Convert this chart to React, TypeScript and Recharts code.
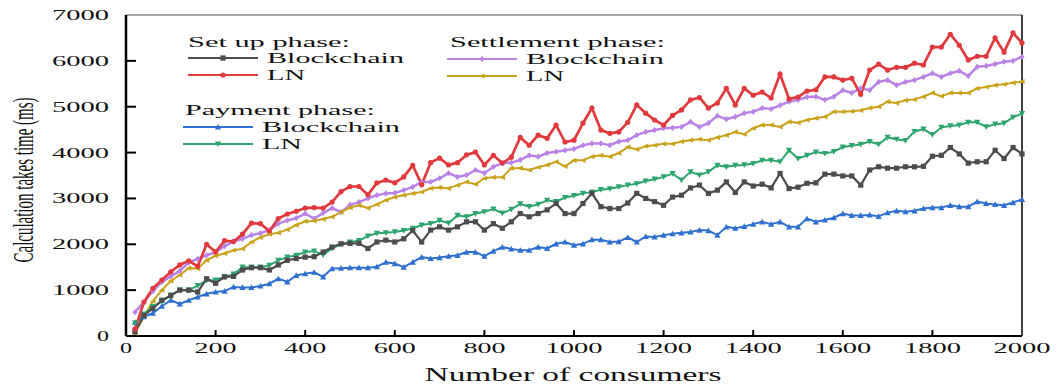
import { LineChart, Line, XAxis, YAxis, ReferenceLine } from "recharts";

// x positions: number of consumers
const consumers = [
  20, 40, 60, 80, 100, 120, 140, 160, 180, 200, 220, 240, 260, 280, 300, 320, 340, 360, 380, 400,
  420, 440, 460, 480, 500, 520, 540, 560, 580, 600, 620, 640, 660, 680, 700, 720, 740, 760, 780, 800,
  820, 840, 860, 880, 900, 920, 940, 960, 980, 1000, 1020, 1040, 1060, 1080, 1100, 1120, 1140, 1160, 1180, 1200,
  1220, 1240, 1260, 1280, 1300, 1320, 1340, 1360, 1380, 1400, 1420, 1440, 1460, 1480, 1500, 1520, 1540, 1560, 1580, 1600,
  1620, 1640, 1660, 1680, 1700, 1720, 1740, 1760, 1780, 1800, 1820, 1840, 1860, 1880, 1900, 1920, 1940, 1960, 1980, 2000,
];

const setupBlockchain = [
  90, 450, 600, 780, 880, 1000, 1000, 960, 1250, 1150, 1290, 1300, 1440, 1490, 1490, 1440, 1550, 1650, 1690, 1720,
  1730, 1830, 1940, 2010, 2020, 2020, 1910, 2050, 2090, 2050, 2120, 2300, 2050, 2310, 2380, 2310, 2380, 2490, 2490, 2310,
  2450, 2350, 2490, 2670, 2600, 2670, 2750, 2890, 2670, 2670, 2890, 3110, 2820, 2780, 2780, 2900, 3110, 3000, 2930, 2850,
  3030, 3070, 3230, 3290, 3110, 3180, 3360, 3130, 3360, 3270, 3310, 3230, 3545, 3215, 3245, 3330, 3340, 3530, 3530, 3490,
  3490, 3290, 3620, 3690, 3660, 3660, 3690, 3690, 3700, 3920, 3940, 4110, 3970, 3770, 3800, 3800, 4050, 3870, 4110, 3970,
];

const setupLN = [
  150, 740, 1040, 1220, 1400, 1550, 1640, 1520, 2000, 1830, 2080, 2060, 2220, 2460, 2450, 2290, 2560, 2660, 2720, 2790,
  2800, 2790, 2920, 3150, 3260, 3260, 3080, 3340, 3400, 3340, 3470, 3720, 3300, 3780, 3880, 3730, 3780, 3950, 4010, 3730,
  3940, 3770, 3900, 4330, 4160, 4380, 4310, 4600, 4230, 4270, 4640, 4970, 4490, 4420, 4450, 4660, 5040, 4860, 4710, 4600,
  4810, 4930, 5150, 5200, 4970, 5080, 5400, 5040, 5400, 5250, 5320, 5190, 5710, 5170, 5210, 5340, 5370, 5650, 5650, 5580,
  5620, 5270, 5800, 5930, 5800, 5860, 5860, 5950, 5910, 6300, 6300, 6580, 6340, 6020, 6100, 6100, 6500, 6190, 6610, 6390,
];

const paymentBlockchain = [
  300, 420, 500, 650, 780, 700, 780, 850, 920, 960, 980, 1070, 1060, 1060, 1090, 1140, 1250, 1180, 1320, 1360,
  1390, 1290, 1470, 1480, 1490, 1490, 1490, 1510, 1610, 1580, 1500, 1610, 1720, 1690, 1710, 1740, 1760, 1830, 1830, 1740,
  1850, 1940, 1900, 1870, 1870, 1940, 1910, 2010, 2050, 1980, 2010, 2100, 2100, 2050, 2060, 2150, 2050, 2170, 2160, 2200,
  2230, 2250, 2270, 2310, 2300, 2200, 2380, 2350, 2390, 2440, 2490, 2440, 2490, 2380, 2380, 2560, 2490, 2530, 2580, 2670,
  2630, 2630, 2640, 2610, 2690, 2730, 2710, 2730, 2780, 2800, 2800, 2850, 2820, 2820, 2930, 2890, 2870, 2850, 2910, 2980,
];

const paymentLN = [
  280, 480, 640, 750, 890, 1000, 1000, 1100, 1210, 1220, 1290, 1350, 1500, 1500, 1500, 1540, 1650, 1720, 1760, 1830,
  1850, 1770, 1910, 2000, 2050, 2080, 2180, 2240, 2250, 2270, 2300, 2350, 2420, 2450, 2520, 2460, 2630, 2600, 2670, 2710,
  2770, 2680, 2760, 2880, 2820, 2870, 2960, 2930, 3020, 3060, 3110, 3140, 3190, 3210, 3250, 3290, 3320, 3380, 3420, 3470,
  3540, 3400, 3580, 3510, 3580, 3720, 3690, 3720, 3730, 3760, 3830, 3830, 3800, 4050, 3870, 3940, 4010, 3980, 4020, 4120,
  4150, 4180, 4240, 4180, 4330, 4290, 4260, 4460, 4510, 4390, 4550, 4580, 4600, 4660, 4660, 4560, 4620, 4640, 4770, 4850,
];

const settlementBlockchain = [
  520, 740, 980, 1180, 1300, 1420, 1600, 1680, 1760, 1830, 1960, 2060, 2120, 2200, 2240, 2310, 2450, 2520, 2570, 2670,
  2560, 2680, 2790, 2700, 2860, 2920, 3000, 3070, 3110, 3120, 3180, 3250, 3360, 3360, 3440, 3550, 3470, 3510, 3620, 3550,
  3690, 3770, 3780, 3840, 3940, 3910, 3990, 4020, 4050, 4080, 4160, 4200, 4200, 4160, 4240, 4270, 4380, 4450, 4490, 4530,
  4540, 4560, 4670, 4560, 4640, 4800, 4730, 4780, 4860, 4890, 4970, 4950, 5030, 5110, 5150, 5210, 5220, 5150, 5220, 5360,
  5300, 5400, 5360, 5540, 5580, 5470, 5540, 5580, 5650, 5730, 5650, 5730, 5780, 5670, 5870, 5890, 5930, 5980, 6000, 6090,
];

const settlementLN = [
  60, 420, 760, 1000, 1200, 1330, 1480, 1470, 1650, 1750, 1800, 1870, 1900, 2050, 2150, 2220, 2250, 2320, 2420, 2500,
  2510, 2550, 2600, 2700, 2800, 2850, 2790, 2870, 2960, 3030, 3070, 3110, 3140, 3220, 3240, 3220, 3290, 3360, 3310, 3440,
  3460, 3460, 3660, 3660, 3620, 3680, 3730, 3800, 3700, 3830, 3830, 3910, 3940, 3910, 3990, 4120, 4070, 4140, 4160, 4190,
  4190, 4240, 4270, 4290, 4270, 4330, 4380, 4450, 4400, 4530, 4600, 4600, 4560, 4670, 4650, 4710, 4750, 4780, 4890, 4890,
  4900, 4920, 4970, 5000, 5110, 5080, 5140, 5160, 5220, 5300, 5230, 5300, 5300, 5300, 5400, 5430, 5470, 5490, 5520, 5550,
];

const xTicks = [0, 200, 400, 600, 800, 1000, 1200, 1400, 1600, 1800, 2000];
const yTicks = [0, 1000, 2000, 3000, 4000, 5000, 6000, 7000];

const data = consumers.map((x, i) => ({
  x,
  setupBlockchain: setupBlockchain[i],
  setupLN: setupLN[i],
  paymentBlockchain: paymentBlockchain[i],
  paymentLN: paymentLN[i],
  settlementBlockchain: settlementBlockchain[i],
  settlementLN: settlementLN[i],
}));

const COLORS = {
  setupBlockchain: "#4d4d4d",
  setupLN: "#e0393e",
  paymentBlockchain: "#2f6fce",
  paymentLN: "#2ea56e",
  settlementBlockchain: "#b983e6",
  settlementLN: "#c9a31c",
};

const FONT = "'Liberation Serif', 'Times New Roman', serif";

type Shape = "square" | "circle" | "up" | "down" | "diamond" | "left";

const Marker = ({ cx, cy, shape, color, s = 2.6 }: { cx: number; cy: number; shape: Shape; color: string; s?: number }) => {
  if (cx == null || cy == null) return null;
  switch (shape) {
    case "square":
      return <rect x={cx - s} y={cy - s} width={s * 2} height={s * 2} fill={color} />;
    case "circle":
      return <circle cx={cx} cy={cy} r={s} fill={color} />;
    case "up":
      return <polygon points={`${cx},${cy - s - 0.5} ${cx - s - 0.5},${cy + s} ${cx + s + 0.5},${cy + s}`} fill={color} />;
    case "down":
      return <polygon points={`${cx},${cy + s + 0.5} ${cx - s - 0.5},${cy - s} ${cx + s + 0.5},${cy - s}`} fill={color} />;
    case "diamond":
      return <polygon points={`${cx},${cy - s - 0.5} ${cx + s},${cy} ${cx},${cy + s + 0.5} ${cx - s},${cy}`} fill={color} />;
    default:
      return <polygon points={`${cx - s - 0.5},${cy} ${cx + s},${cy - s} ${cx + s},${cy + s}`} fill={color} />;
  }
};

const makeDot = (key: string, shape: Shape, color: string) => (props: any) => (
  <Marker key={`${key}-${props.index}`} cx={props.cx} cy={props.cy} shape={shape} color={color} />
);

const YTick = ({ x, y, payload }: any) => {
  const label = String(payload.value);
  const v = payload.value;
  return (
    <g>
      {v !== 0 && v !== 7000 && <line x1={x} x2={x + 10} y1={y} y2={y} stroke="#000" strokeWidth={2} />}
      <text
        x={x - 17}
        y={y + 5}
        textAnchor="end"
        fontFamily={FONT}
        fontSize={14}
        fill="#111"
        textLength={label.length * 15 - 3}
        lengthAdjust="spacingAndGlyphs"
      >
        {label}
      </text>
    </g>
  );
};

const XTick = ({ x, y, payload }: any) => {
  const label = String(payload.value);
  const v = payload.value;
  return (
    <g>
      {v !== 0 && v !== 2000 && <line x1={x} x2={x} y1={y} y2={y - 6} stroke="#000" strokeWidth={2} />}
      <text
        x={x}
        y={y + 17}
        textAnchor="middle"
        fontFamily={FONT}
        fontSize={14}
        fill="#111"
        textLength={label.length * 15 - 3}
        lengthAdjust="spacingAndGlyphs"
      >
        {label}
      </text>
    </g>
  );
};

const LegendText = ({ x, y, w, children }: { x: number; y: number; w: number; children: string }) => (
  <text x={x} y={y} fontFamily={FONT} fontSize={15} fill="#111" textLength={w} lengthAdjust="spacingAndGlyphs">
    {children}
  </text>
);

const LegendRow = ({ x, y, shape, color, label, w }: { x: number; y: number; shape: Shape; color: string; label: string; w: number }) => (
  <g>
    <line x1={x} x2={x + 70} y1={y} y2={y} stroke={color} strokeWidth={2} />
    <Marker cx={x + 35} cy={y} shape={shape} color={color} />
    <LegendText x={x + 79} y={y + 5} w={w}>
      {label}
    </LegendText>
  </g>
);

const Overlay = () => (
  <svg width={1059} height={384} style={{ position: "absolute", left: 0, top: 0, pointerEvents: "none" }}>
    <LegendText x={188} y={47} w={162}>Set up phase:</LegendText>
    <LegendRow x={188} y={58} shape="square" color={COLORS.setupBlockchain} label="Blockchain" w={137} />
    <LegendRow x={188} y={75} shape="circle" color={COLORS.setupLN} label="LN" w={38} />

    <LegendText x={450} y={47} w={215}>Settlement phase:</LegendText>
    <LegendRow x={447} y={59} shape="diamond" color={COLORS.settlementBlockchain} label="Blockchain" w={138} />
    <LegendRow x={447} y={76} shape="left" color={COLORS.settlementLN} label="LN" w={38} />

    <LegendText x={185} y={115} w={190}>Payment phase:</LegendText>
    <LegendRow x={183} y={127} shape="up" color={COLORS.paymentBlockchain} label="Blockchain" w={138} />
    <LegendRow x={183} y={144} shape="down" color={COLORS.paymentLN} label="LN" w={40} />

    <text
      x={573}
      y={381}
      textAnchor="middle"
      fontFamily={FONT}
      fontSize={18}
      fill="#111"
      textLength={297}
      lengthAdjust="spacingAndGlyphs"
    >
      Number of consumers
    </text>
    <text
      transform="translate(33,180) scale(1.95,1) rotate(-90)"
      textAnchor="middle"
      fontFamily={FONT}
      fontSize={15}
      fill="#111"
      textLength={165}
      lengthAdjust="spacingAndGlyphs"
    >
      Calculation takes time (ms)
    </text>
  </svg>
);

const series: { key: keyof typeof COLORS; shape: Shape; width: number }[] = [
  { key: "settlementBlockchain", shape: "diamond", width: 2.5 },
  { key: "settlementLN", shape: "left", width: 2 },
  { key: "paymentBlockchain", shape: "up", width: 2 },
  { key: "paymentLN", shape: "down", width: 2 },
  { key: "setupBlockchain", shape: "square", width: 2.2 },
  { key: "setupLN", shape: "circle", width: 2.7 },
];

export default function App() {
  return (
    <div style={{ position: "relative", width: 1059, height: 384, background: "#fff" }}>
      <style>{`body{margin:0;background:#fff}`}</style>
      <LineChart width={1059} height={384} data={data} margin={{ top: 15, right: 37, bottom: 0, left: 0 }}>
        <XAxis
          type="number"
          dataKey="x"
          domain={[0, 2000]}
          ticks={xTicks}
          height={48}
          tickSize={0}
          tickMargin={0}
          tickLine={false}
          axisLine={{ stroke: "#000", strokeWidth: 2 }}
          tick={<XTick />}
          interval={0}
        />
        <YAxis
          type="number"
          domain={[0, 7000]}
          ticks={yTicks}
          width={126}
          tickSize={0}
          tickMargin={0}
          tickLine={false}
          axisLine={{ stroke: "#000", strokeWidth: 2.5 }}
          tick={<YTick />}
          interval={0}
        />
        <ReferenceLine y={7000} stroke="#8a8a8a" strokeWidth={1.5} ifOverflow="extendDomain" />
        <ReferenceLine x={2000} stroke="#000" strokeWidth={1.5} ifOverflow="extendDomain" />
        {series.map((s) => (
          <Line
            key={s.key}
            type="linear"
            dataKey={s.key}
            stroke={COLORS[s.key]}
            strokeWidth={s.width}
            dot={makeDot(s.key, s.shape, COLORS[s.key])}
            activeDot={false}
            isAnimationActive={false}
          />
        ))}
      </LineChart>
      <Overlay />
    </div>
  );
}
